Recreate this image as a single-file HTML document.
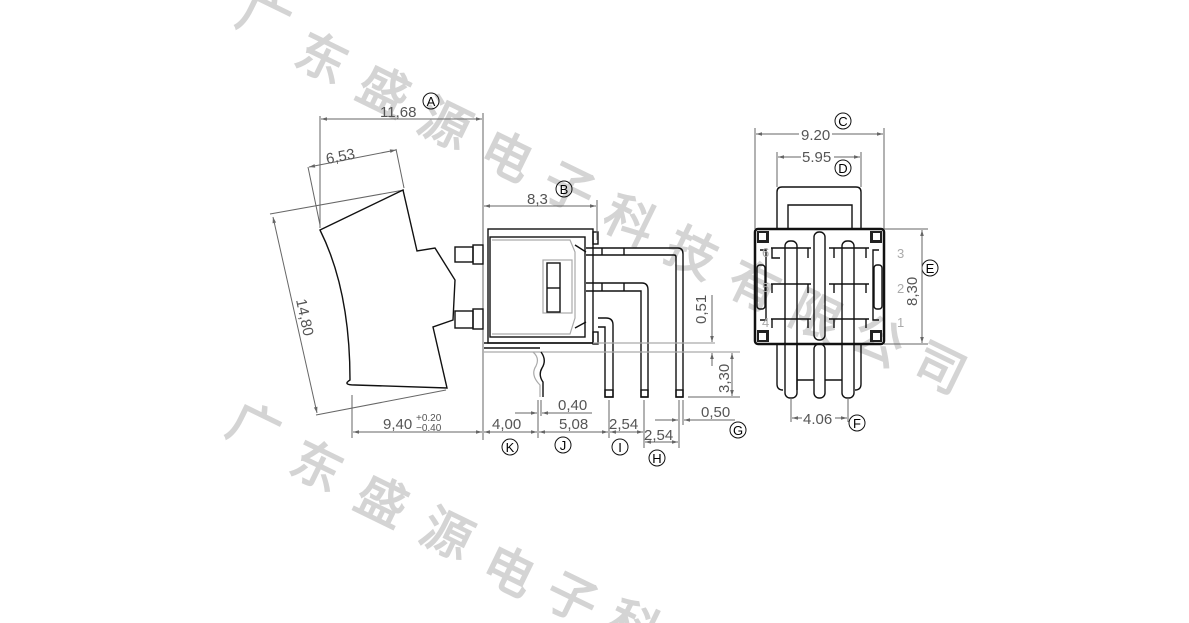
<!DOCTYPE html>
<html><head><meta charset="utf-8"><style>
html,body{margin:0;padding:0;background:#fff;width:1189px;height:623px;overflow:hidden}
svg{display:block}
text{font-family:"Liberation Sans","DejaVu Sans",sans-serif}
.wm{font-family:"Liberation Sans","Noto Sans CJK SC",sans-serif;font-size:50px;fill:#d4d4d4;font-weight:bold}
.d{stroke:#666;stroke-width:1;fill:none}
.dt{fill:#555;font-size:15px}
.k{stroke:#111;stroke-width:1.4;fill:none}
.g{stroke:#aaa;stroke-width:1.2;fill:none}
</style></head><body>
<svg width="1189" height="623" viewBox="0 0 1189 623" xmlns="http://www.w3.org/2000/svg">
<defs>
<marker id="a" viewBox="0 0 10 10" refX="10" refY="5" markerWidth="8" markerHeight="6" orient="auto-start-reverse"><path d="M0,2 L10,5 L0,8z" fill="#666"/></marker>
</defs>
<g class="wm" text-anchor="middle" dominant-baseline="middle">
<text transform="translate(262,22) rotate(26)">广</text>
<text transform="translate(320,62) rotate(26)">东</text>
<text transform="translate(382,95) rotate(26)">盛</text>
<text transform="translate(443,128) rotate(26)">源</text>
<text transform="translate(505,160) rotate(26)">电</text>
<text transform="translate(567,192) rotate(26)">子</text>
<text transform="translate(628,225) rotate(26)">科</text>
<text transform="translate(690,257) rotate(26)">技</text>
<text transform="translate(752,290) rotate(26)">有</text>
<text transform="translate(814,320) rotate(26)">限</text>
<text transform="translate(876,345) rotate(26)">公</text>
<text transform="translate(938,372) rotate(26)">司</text>
<text transform="translate(252,432) rotate(26)">广</text>
<text transform="translate(315,470) rotate(26)">东</text>
<text transform="translate(380,505) rotate(26)">盛</text>
<text transform="translate(445,538) rotate(26)">源</text>
<text transform="translate(507,575) rotate(26)">电</text>
<text transform="translate(570,602) rotate(26)">子</text>
<text transform="translate(632,630) rotate(26)">科</text>
</g>

<line class="d" x1="320" y1="116" x2="320" y2="228"/>
<line class="d" x1="483" y1="113" x2="483" y2="440"/>
<line class="d" x1="321" y1="119" x2="482" y2="119" marker-start="url(#a)" marker-end="url(#a)"/>
<text class="dt" x="380" y="117">11,68</text>
<circle cx="431" cy="101" r="8" fill="none" stroke="#111"/><text x="431" y="106" text-anchor="middle" font-size="13">A</text>
<line class="d" x1="308" y1="167" x2="320" y2="225"/>
<line class="d" x1="396" y1="149" x2="404" y2="188"/>
<line class="d" x1="309" y1="167" x2="396" y2="150" marker-start="url(#a)" marker-end="url(#a)"/>
<text class="dt" x="327" y="164" transform="rotate(-11 327 164)">6,53</text>
<line class="d" x1="270" y1="214" x2="404" y2="190"/>
<line class="d" x1="316" y1="415" x2="446" y2="390"/>
<line class="d" x1="273" y1="217" x2="317" y2="413" marker-start="url(#a)" marker-end="url(#a)"/>
<text class="dt" x="296" y="300" transform="rotate(78 296 300)">14,80</text>
<path class="k" d="M320,230 L403,190 L417,251 L435,248 L455,280 L453,320 L433,327 L447,388 L355,385 Q342,385 350,380 Q350,290 320,230 Z"/>
<rect class="k" x="455" y="247" width="18" height="15"/>
<rect class="k" x="455" y="311" width="18" height="17"/>
<rect class="k" x="473" y="245" width="10" height="19"/>
<rect class="k" x="473" y="309" width="10" height="20"/>
<rect class="k" x="488" y="229" width="105" height="114"/>
<rect class="k" x="490" y="237" width="95" height="100"/>
<rect class="k" x="593" y="232" width="5" height="12"/>
<rect class="k" x="593" y="332" width="5" height="12"/>
<path class="g" d="M492,240 L570,240 L575,252 L575,318 L570,334 L492,334"/>
<path class="k" d="M575,245 L586,252 M575,328 L586,322"/>
<rect class="g" x="543" y="260" width="29" height="53"/>
<rect class="k" x="547" y="263" width="13" height="49"/>
<line class="k" x1="547" y1="288" x2="560" y2="288"/>
<path class="k" d="M586,248 L678,248 Q683,248 683,254 L683,397 L676,397 L676,257 Q676,255 674,255 L586,255"/>
<path class="k" d="M586,283 L642,283 Q648,283 648,290 L648,397 L641,397 L641,291 L586,291"/>
<path class="k" d="M598,318 L606,318 Q613,318 613,325 L613,397 L605,397 L605,327 L598,327"/>
<line class="k" x1="602" y1="248" x2="602" y2="255"/><line class="k" x1="624" y1="248" x2="624" y2="255"/>
<line class="k" x1="602" y1="283" x2="602" y2="291"/><line class="k" x1="624" y1="283" x2="624" y2="291"/>
<rect class="k" x="605" y="390" width="8" height="7"/><rect class="k" x="641" y="390" width="7" height="7"/><rect class="k" x="676" y="390" width="7" height="7"/>
<line class="k" x1="484" y1="343" x2="593" y2="343"/>
<line class="k" x1="484" y1="348" x2="540" y2="348"/>
<line class="g" x1="593" y1="343" x2="715" y2="343"/>
<line class="g" x1="484" y1="352" x2="740" y2="352"/>
<path class="g" d="M533,352 Q540,358 536,366 Q530,375 540,385 L540,397"/>
<path class="k" d="M541,352 Q547,360 542,368 Q538,375 543,382 L543,397"/>
<line class="d" x1="712" y1="295" x2="712" y2="342" marker-end="url(#a)"/>
<line class="d" x1="712" y1="366" x2="712" y2="353" marker-end="url(#a)"/>
<text class="dt" x="706" y="324" transform="rotate(-90 706 324)">0,51</text>
<line class="d" x1="732" y1="353" x2="732" y2="396" marker-start="url(#a)" marker-end="url(#a)"/>
<line class="d" x1="688" y1="397" x2="740" y2="397"/>
<text class="dt" x="729" y="393" transform="rotate(-90 729 393)">3,30</text>
<line class="d" x1="352" y1="395" x2="352" y2="438"/>
<line class="d" x1="538" y1="400" x2="538" y2="438"/><line class="d" x1="541" y1="400" x2="541" y2="416"/>
<line class="d" x1="609" y1="400" x2="609" y2="438"/>
<line class="d" x1="644" y1="400" x2="644" y2="448"/>
<line class="d" x1="679" y1="400" x2="679" y2="448"/><line class="d" x1="683" y1="400" x2="683" y2="425"/>
<line class="d" x1="353" y1="432" x2="482" y2="432" marker-start="url(#a)" marker-end="url(#a)"/>
<line class="d" x1="484" y1="432" x2="537" y2="432" marker-start="url(#a)" marker-end="url(#a)"/>
<line class="d" x1="539" y1="432" x2="608" y2="432" marker-start="url(#a)" marker-end="url(#a)"/>
<line class="d" x1="610" y1="432" x2="643" y2="432" marker-start="url(#a)" marker-end="url(#a)"/>
<line class="d" x1="645" y1="442" x2="678" y2="442" marker-start="url(#a)" marker-end="url(#a)"/>
<line class="d" x1="515" y1="413" x2="537" y2="413" marker-end="url(#a)"/>
<line class="d" x1="592" y1="413" x2="542" y2="413" marker-end="url(#a)"/>
<line class="d" x1="655" y1="420" x2="678" y2="420" marker-end="url(#a)"/>
<line class="d" x1="735" y1="420" x2="684" y2="420" marker-end="url(#a)"/>
<text class="dt" x="383" y="429">9,40</text>
<text x="416" y="421" font-size="10" fill="#555">+0.20</text><text x="416" y="431" font-size="10" fill="#555">−0.40</text>
<text class="dt" x="492" y="429">4,00</text>
<text class="dt" x="559" y="429">5,08</text>
<text class="dt" x="558" y="410">0,40</text>
<text class="dt" x="609" y="429">2,54</text>
<text class="dt" x="644" y="440">2,54</text>
<text class="dt" x="701" y="417">0,50</text>
<g fill="none" stroke="#111"><circle cx="510" cy="447" r="8"/><circle cx="563" cy="445" r="8"/><circle cx="620" cy="447" r="8"/><circle cx="657" cy="458" r="8"/><circle cx="738" cy="430" r="8"/></g>
<g font-size="13" text-anchor="middle"><text x="510" y="452">K</text><text x="563" y="450">J</text><text x="620" y="452">I</text><text x="657" y="463">H</text><text x="738" y="435">G</text><text x="564" y="194">B</text></g>
<circle cx="564" cy="189" r="8" fill="none" stroke="#111"/>
<line class="d" x1="597" y1="200" x2="597" y2="240"/>
<line class="d" x1="484" y1="206" x2="596" y2="206" marker-start="url(#a)" marker-end="url(#a)"/>
<text class="dt" x="527" y="204">8,3</text>

<line class="d" x1="755" y1="128" x2="755" y2="229"/><line class="d" x1="884" y1="128" x2="884" y2="229"/>
<line class="d" x1="756" y1="134" x2="883" y2="134" marker-start="url(#a)" marker-end="url(#a)"/>
<rect x="799" y="126" width="33" height="14" fill="#fff"/><text class="dt" x="801" y="140">9.20</text>
<line class="d" x1="777" y1="152" x2="777" y2="187"/><line class="d" x1="861" y1="152" x2="861" y2="187"/>
<line class="d" x1="778" y1="157" x2="860" y2="157" marker-start="url(#a)" marker-end="url(#a)"/>
<rect x="801" y="149" width="33" height="14" fill="#fff"/><text class="dt" x="802" y="162">5.95</text>
<g fill="none" stroke="#111"><circle cx="843" cy="121" r="8"/><circle cx="843" cy="168" r="8"/><circle cx="930" cy="268" r="8"/><circle cx="857" cy="423" r="8"/></g>
<g font-size="13" text-anchor="middle"><text x="843" y="126">C</text><text x="843" y="173">D</text><text x="930" y="273">E</text><text x="857" y="428">F</text></g>
<path class="k" d="M777,230 L777,192 Q777,187 782,187 L856,187 Q861,187 861,192 L861,230"/>
<path class="k" d="M788,229 L788,205 L852,205 L852,229"/>
<rect x="755" y="229" width="129" height="115" rx="3" fill="none" stroke="#111" stroke-width="2.5"/>
<g fill="#222"><rect x="757" y="231" width="12" height="12"/><rect x="870" y="231" width="12" height="12"/><rect x="757" y="330" width="12" height="12"/><rect x="870" y="330" width="12" height="12"/></g>
<g fill="#fff"><rect x="759" y="233" width="7" height="7"/><rect x="873" y="233" width="7" height="7"/><rect x="759" y="333" width="7" height="7"/><rect x="873" y="333" width="7" height="7"/></g>
<path class="k" d="M760,250 L766,250 L766,320 L760,320 M879,250 L873,250 L873,320 L879,320"/>
<rect class="k" x="757" y="265" width="8" height="44" rx="3"/><rect class="k" x="874" y="265" width="8" height="44" rx="3"/>
<g class="k">
<path d="M771,248 L811,248 M829,248 L869,248 M771,284 L811,284 M829,284 L869,284 M771,319 L811,319 M829,319 L869,319"/>
<path d="M772,248 L772,258 L780,258 M808,248 L808,258 M834,248 L834,258 M866,248 L866,258 M772,284 L772,293 M808,284 L808,293 M834,284 L834,293 M866,284 L866,293 M772,319 L772,328 M808,319 L808,328 M834,319 L834,328 M866,319 L866,328"/>
</g>
<rect class="k" x="814" y="232" width="11" height="108" rx="5"/>
<rect class="k" x="785" y="241" width="12" height="157" rx="5" fill="#fff"/>
<rect class="k" x="842" y="241" width="12" height="157" rx="5" fill="#fff"/>
<rect class="k" x="814" y="344" width="11" height="54" rx="5"/>
<path class="k" d="M777,344 L777,384 Q777,390 783,390 M861,344 L861,384 Q861,390 855,390 M797,344 L797,390 M814,380 L797,380 M842,380 L825,380"/>
<g fill="#aaa" font-size="13"><text x="762" y="257">6</text><text x="762" y="292">5</text><text x="762" y="327">4</text><text x="897" y="258">3</text><text x="897" y="293">2</text><text x="897" y="327">1</text></g>
<line class="d" x1="884" y1="229" x2="928" y2="229"/><line class="d" x1="884" y1="344" x2="928" y2="344"/>
<line class="d" x1="922" y1="230" x2="922" y2="343" marker-start="url(#a)" marker-end="url(#a)"/>
<text class="dt" x="917" y="306" transform="rotate(-90 917 306)">8,30</text>
<line class="d" x1="791" y1="398" x2="791" y2="422"/><line class="d" x1="848" y1="398" x2="848" y2="422"/>
<line class="d" x1="792" y1="418" x2="847" y2="418" marker-start="url(#a)" marker-end="url(#a)"/>
<rect x="802" y="411" width="33" height="14" fill="#fff"/><text class="dt" x="803" y="424">4.06</text>
</svg>
</body></html>
